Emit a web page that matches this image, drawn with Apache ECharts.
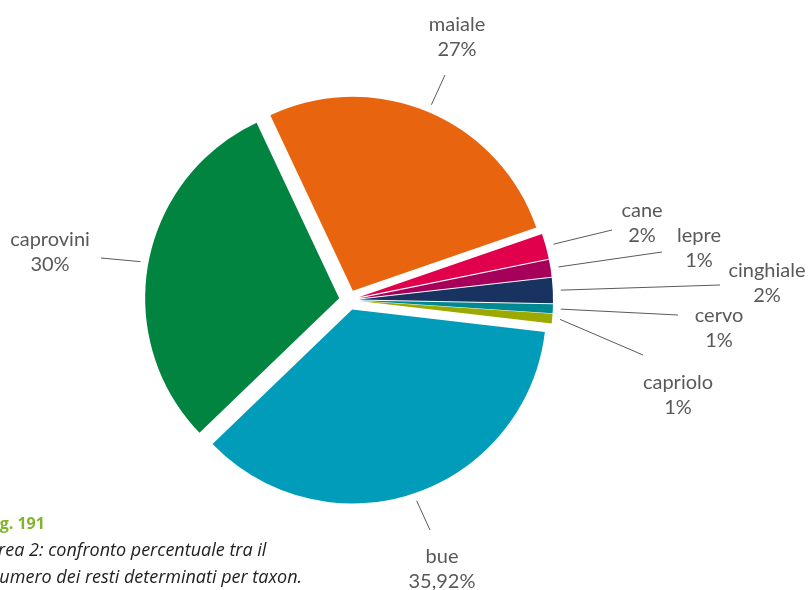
<!DOCTYPE html>
<html><head><meta charset="utf-8">
<script src="https://cdn.jsdelivr.net/npm/echarts@6/dist/echarts.min.js"></script>
<style>html,body{margin:0;padding:0;background:#fff}#c{width:811px;height:590px}</style>
</head><body><div id="c"></div>
<script>
const categories = ['maiale','cane','lepre','cinghiale','cervo','capriolo','bue','caprovini'];
const values = [26.7, 2.1, 1.4, 2.1, 0.75, 0.8, 35.92, 30.2];
const valueLabels = ['27%','2%','1%','2%','1%','1%','35,92%','30%'];
const colors = ['#E9640F','#E0004B','#A6005A','#18335F','#008893','#9CAA00','#009CBA','#00843F'];

// layout (not data)
const CX = 349, CY = 300, R = 194, START = 115.2;
const labelPos = [[457,37],[642,223],[699,248],[767,283],[719,328],[678,395],[442,569],[50,252]];
const lineEnds = [[445,75],[612,230],[662,252],[720,285],[678,315],[643,355],[430,530],[101,258]];
const lineStartR = 212;

const total = values.reduce((a,b)=>a+b,0);
function bisector(i){
  let acc = 0; for (let k=0;k<i;k++) acc += values[k];
  const a0 = START - acc/total*360;
  const a1 = a0 - values[i]/total*360;
  return (a0+a1)/2 * Math.PI/180;
}

const chart = echarts.init(document.getElementById('c'), null, {renderer:'canvas'});
chart.setOption({
  animation: false,
  backgroundColor: '#fff',
  graphic: [
    {type:'text', x: -14, y: 524, style:{text:'Fig. 191', font:'bold 16px "Open Sans"', fill:'#82B42B', align:'left', verticalAlign:'middle'}},
    {type:'text', x: -12, y: 551, style:{text:'Area 2: confronto percentuale tra il', font:'italic 18px "Open Sans"', fill:'#222', align:'left', verticalAlign:'middle'}},
    {type:'text', x: -11, y: 578, style:{text:'numero dei resti determinati per taxon.', font:'italic 18px "Open Sans"', fill:'#222', align:'left', verticalAlign:'middle'}}
  ],
  series: [{
    type: 'pie',
    center: [CX, CY],
    radius: R,
    startAngle: START,
    clockwise: true,
    selectedMode: 'multiple',
    selectedOffset: 10,
    emphasis: {disabled: true},
    itemStyle: {borderWidth: 0},
    label: {show: false},
    labelLine: {show: false},
    data: categories.map((c,i)=>({name:c, value:values[i], selected:true, itemStyle:{color:colors[i]}}))
  }, {
    type: 'pie',
    silent: true,
    center: [CX, CY],
    radius: R,
    startAngle: START,
    clockwise: true,
    avoidLabelOverlap: false,
    emphasis: {disabled: true},
    itemStyle: {color: 'rgba(0,0,0,0)', borderWidth: 0},
    label: {
      show: true,
      position: 'outside',
      formatter: p => p.name + '\n' + valueLabels[p.dataIndex],
      color: '#58595B',
      fontFamily: 'Lato',
      fontSize: 20,
      lineHeight: 25,
      align: 'center'
    },
    labelLine: {show: true, lineStyle: {color: '#5a5a5a', width: 1}},
    labelLayout: function (p) {
      const i = p.dataIndex;
      const b = bisector(i);
      const s = [CX + lineStartR*Math.cos(b), CY - lineStartR*Math.sin(b)];
      return {
        x: labelPos[i][0], y: labelPos[i][1],
        align: 'center', verticalAlign: 'middle',
        labelLinePoints: [s, lineEnds[i]]
      };
    },
    data: categories.map((c,i)=>({name:c, value:values[i]}))
  }]
});
</script>
</body></html>
